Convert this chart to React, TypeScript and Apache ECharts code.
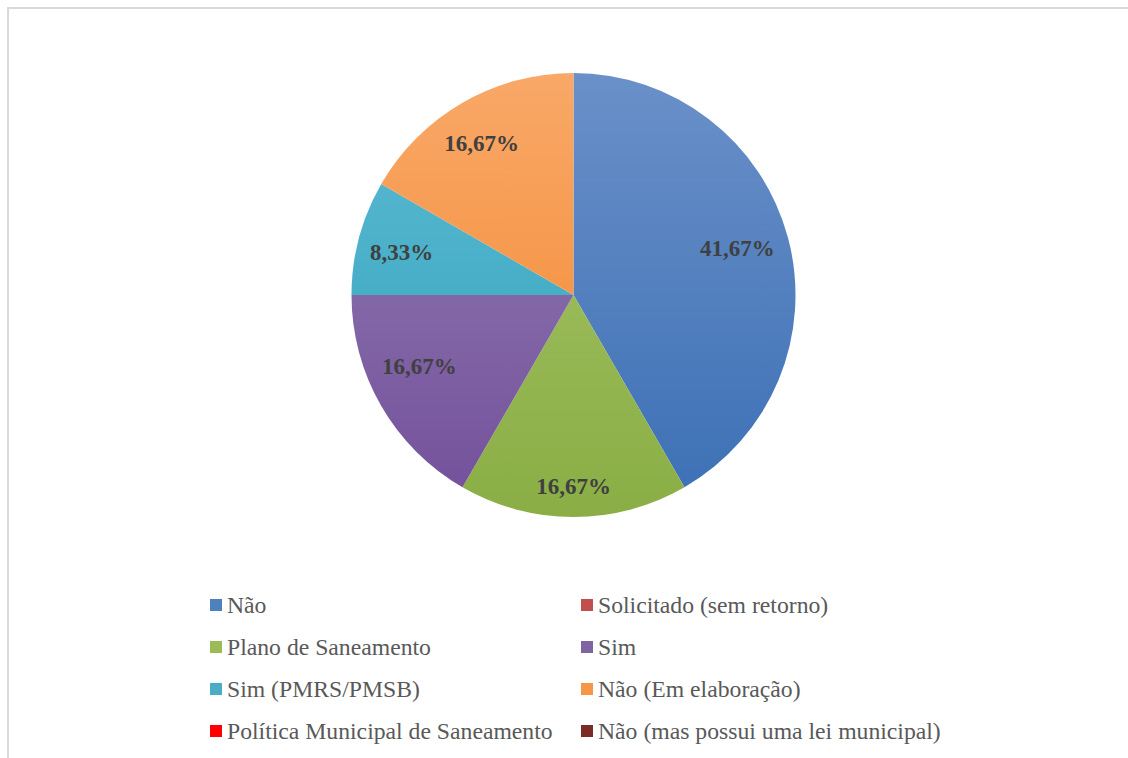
import React, { useEffect, useRef } from "react";
import * as echarts from "echarts";

const categories = [
  "Não",
  "Solicitado (sem retorno)",
  "Plano de Saneamento",
  "Sim",
  "Sim (PMRS/PMSB)",
  "Não (Em elaboração)",
  "Política Municipal de Saneamento",
  "Não (mas possui uma lei municipal)",
];
const values = [5, 0, 2, 2, 1, 2, 0, 0];
const flatColors = ["#4F81BD", "#C0504D", "#9BBB59", "#8064A2", "#4BACC6", "#F79646", "#FF0000", "#7B2C29"];
const topColors = ["#6A90C8", "#CC6866", "#A7C56A", "#9280B4", "#5EBBD2", "#F9A868", "#FF3333", "#8E3D3A"];
const bottomColors = ["#3B6FB5", "#AE4340", "#8AAE45", "#734F9A", "#30A1BD", "#F1862C", "#E00000", "#6A2320"];
const leftLegend = [0, 2, 4, 6];
const rightLegend = [1, 3, 5, 7];
const labelNudgeX = [-8, 0, 0, 0, 0, -3, 0, 0];
const labelNudgeY = [0, 0, 13, -18, 4, 3, 0, 0];

const FONT = '"Liberation Serif", "Times New Roman", serif';

export default function App() {
  const ref = useRef<HTMLDivElement>(null);
  useEffect(() => {
    if (!ref.current) return;
    const chart = echarts.init(ref.current, null, { renderer: "svg" });
    const cx = 573.5;
    const cy = 295;
    const R = 222;
    const total = values.reduce((a, b) => a + b, 0);
    const grad = (i: number) =>
      new echarts.graphic.LinearGradient(0, cy - R, 0, cy + R, [
        { offset: 0, color: topColors[i] },
        { offset: 1, color: bottomColors[i] },
      ], true);
    const legendData = (idx: number[]) =>
      idx.map((i) => ({ name: categories[i], itemStyle: { color: flatColors[i] } }));
    const legendCommon = {
      orient: "vertical" as const,
      top: 593,
      padding: 0,
      itemWidth: 12,
      itemHeight: 12,
      itemGap: 18,
      icon: "rect",
      selectedMode: false,
      textStyle: { fontFamily: FONT, fontSize: 23.7, color: "#595959", lineHeight: 22 },
    };
    chart.setOption({
      animation: false,
      backgroundColor: "#ffffff",
      graphic: [
        {
          type: "rect",
          shape: { x: 8, y: 8, width: 1200, height: 800 },
          style: { fill: "none", stroke: "#D9D9D9", lineWidth: 2 },
          silent: true,
        },
      ],
      legend: [
        { ...legendCommon, left: 210, data: legendData(leftLegend) },
        { ...legendCommon, left: 581, data: legendData(rightLegend) },
      ],
      series: [
        {
          type: "pie",
          center: [cx, cy],
          radius: [0, R],
          startAngle: 90,
          clockwise: true,
          silent: true,
          label: { show: false },
          labelLine: { show: false },
          itemStyle: { borderWidth: 0 },
          emphasis: { disabled: true },
          data: categories.map((name, i) => ({
            name,
            value: values[i],
            itemStyle: { color: grad(i) },
          })),
        },
        {
          type: "pie",
          center: [cx, cy],
          radius: [128, R],
          startAngle: 90,
          clockwise: true,
          silent: true,
          itemStyle: { color: "rgba(0,0,0,0)", borderWidth: 0 },
          emphasis: { disabled: true },
          labelLine: { show: false },
          label: {
            show: true,
            position: "inside",
            fontFamily: FONT,
            fontSize: 23,
            fontWeight: "bold",
            color: "#404040",
            formatter: (p: any) =>
              p.value > 0 ? ((p.value / total) * 100).toFixed(2).replace(".", ",") + "%" : "",
          },
          labelLayout: (p: any) => ({ dx: labelNudgeX[p.dataIndex] || 0, dy: labelNudgeY[p.dataIndex] || 0 }),
          data: categories.map((name, i) => ({ name, value: values[i] })),
        },
      ],
    });
    return () => chart.dispose();
  }, []);
  return (
    <div
      ref={ref}
      style={{ position: "fixed", left: 0, top: 0, width: 1128, height: 758, background: "#fff" }}
    />
  );
}
